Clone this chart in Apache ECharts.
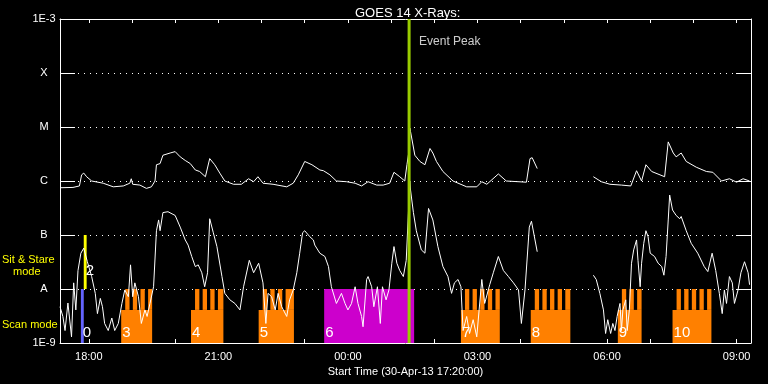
<!DOCTYPE html>
<html><head><meta charset="utf-8">
<script src="https://cdn.jsdelivr.net/npm/echarts@6/dist/echarts.min.js"></script>
<style>html,body{margin:0;padding:0;background:#000;}#c{width:768px;height:384px;}</style>
</head><body><div id="c"></div>
<script>
// ---------------- data ----------------
const chartTitle = 'GOES 14 X-Rays:';
const xAxisTitle = 'Start Time (30-Apr-13 17:20:00)';
const rangeStart = '17:20';
const rangeEnd = '09:20';
const yTickValues = [1e-9, 1e-8, 1e-7, 1e-6, 1e-5, 1e-4, 1e-3];
const yTickLabels = ['1E-9', 'A', 'B', 'C', 'M', 'X', '1E-3'];

// GOES long channel (1-8 A)
const longTimes = ['17:20','17:38','17:47','17:50','17:53','17:57','18:04','18:20','18:34','18:48','18:57','18:59','19:01','19:11','19:20','19:27','19:32','19:34','19:39','19:43','19:53','20:00','20:07','20:14','20:21','20:28','20:34','20:42','20:48','20:55','21:02','21:09','21:21','21:32','21:42','21:49','21:55','22:02','22:16','22:35','22:44','22:51','23:00','23:10','23:21','23:26','23:35','23:44','23:58','00:10','00:19','00:28','00:40','00:49','00:58','01:04','01:12','01:19','01:22','01:25','01:26','01:27','01:33','01:40','01:47','01:54','01:58','02:03','02:12','02:26','02:45','02:59','03:06','03:13','03:29','03:40','04:08','04:13','04:16','04:23','04:50','05:41','05:52','06:04','06:20','06:33','06:41','06:48','06:54','07:02','07:20','07:25','07:32','07:36','07:43','07:50','08:04','08:18','08:27','08:39','08:50','09:00','09:09','09:18'];
const longFlux = [7.5e-7,7.6e-7,8.1e-7,1.3e-6,1.4e-6,1.2e-6,1.0e-6,9.1e-7,7.8e-7,8.1e-7,9.1e-7,1.1e-6,8.7e-7,8.4e-7,7.3e-7,7.8e-7,1.0e-6,2.0e-6,2.1e-6,3.0e-6,3.3e-6,3.5e-6,2.8e-6,2.4e-6,2.1e-6,1.6e-6,1.5e-6,1.2e-6,2.6e-6,2.0e-6,1.4e-6,1.0e-6,8.7e-7,8.7e-7,1.1e-6,9.7e-7,1.2e-6,9.1e-7,8.7e-7,7.8e-7,9.1e-7,1.3e-6,2.3e-6,2.0e-6,1.6e-6,1.55e-6,1.3e-6,1.0e-6,9.7e-7,9.1e-7,8.1e-7,9.7e-7,8.4e-7,8.4e-7,9.1e-7,1.45e-6,1.2e-6,1.0e-6,2.0e-6,3.7e-6,9.6e-6,8.2e-6,3.0e-6,2.3e-6,2.0e-6,4.0e-6,3.3e-6,2.3e-6,1.5e-6,1.0e-6,7.8e-7,7.8e-7,9.7e-7,8.7e-7,1.35e-6,1.0e-6,9.5e-7,2.6e-6,2.7e-6,1.7e-6,null,1.2e-6,9.7e-7,8.7e-7,8.4e-7,8.1e-7,1.55e-6,1.0e-6,2.0e-6,1.5e-6,1.2e-6,5.3e-6,3.3e-6,2.8e-6,3.3e-6,2.3e-6,1.8e-6,1.5e-6,1.45e-6,1.0e-6,1.1e-6,9.5e-7,1.1e-6,1.0e-6];

// GOES short channel (0.5-4 A)
const shortTimes = ['17:20','17:24','17:27','17:31','17:36','17:39','17:42','17:45','17:49','17:53','17:58','18:04','18:09','18:12','18:16','18:19','18:22','18:27','18:32','18:36','18:41','18:46','18:50','18:55','18:58','19:01','19:04','19:09','19:13','19:18','19:21','19:25','19:30','19:34','19:37','19:39','19:43','19:50','20:00','20:07','20:14','20:18','20:23','20:28','20:32','20:37','20:41','20:45','20:48','20:53','20:58','21:05','21:09','21:16','21:23','21:30','21:35','21:43','21:49','21:56','22:02','22:06','22:09','22:14','22:19','22:23','22:28','22:35','22:39','22:44','22:49','22:53','22:57','23:00','23:07','23:12','23:14','23:21','23:28','23:33','23:37','23:44','23:51','23:56','00:00','00:05','00:10','00:14','00:19','00:21','00:26','00:28','00:33','00:36','00:41','00:45','00:48','00:53','00:57','01:01','01:04','01:08','01:12','01:17','01:21','01:24','01:26','01:27','01:31','01:35','01:42','01:47','01:52','01:54','01:58','02:05','02:12','02:19','02:24','02:28','02:33','02:37','02:40','02:45','02:49','02:54','02:59','03:06','03:10','03:17','03:22','03:29','03:36','03:43','03:50','03:57','04:01','04:06','04:12','04:15','04:23','04:50','05:41','05:45','05:50','05:55','05:58','06:01','06:05','06:08','06:11','06:14','06:18','06:20','06:22','06:26','06:28','06:31','06:34','06:37','06:41','06:43','06:46','06:48','06:51','06:54','06:57','07:00','07:06','07:11','07:16','07:19','07:22','07:25','07:27','07:31','07:36','07:41','07:43','07:50','07:57','08:06','08:15','08:20','08:26','08:31','08:36','08:40','08:43','08:46','08:50','08:54','08:57','09:02','09:06','09:11','09:16','09:18'];
const shortFlux = [4.7e-9,3.1e-9,1.7e-9,5.5e-9,1.3e-9,1.3e-8,4.1e-9,2.2e-8,4.6e-8,5.7e-8,3.2e-8,1.7e-8,8.3e-9,3.5e-9,6.7e-9,4.7e-9,2.3e-9,1.7e-9,2.9e-9,1.7e-9,2.3e-9,5.4e-9,9.6e-9,7.2e-9,2.8e-8,7.2e-9,1.3e-8,7.2e-9,2.3e-9,4.1e-9,3.1e-9,5.4e-9,1.1e-8,1.2e-7,1.9e-7,1.2e-7,2.6e-7,2.7e-7,2.3e-7,1.4e-7,8.1e-8,6.5e-8,4.0e-8,2.6e-8,2.8e-8,2.0e-8,1.1e-8,2.0e-8,2.0e-7,1.1e-7,6.1e-8,1.7e-8,8.3e-9,6.3e-9,5.4e-9,4.1e-9,1.1e-8,3.4e-8,2.0e-8,3.0e-8,1.3e-8,2.3e-9,8.3e-9,7.2e-9,4.1e-9,8.3e-9,4.7e-9,3.1e-9,6.3e-9,9.6e-9,2.0e-8,4.6e-8,1.1e-7,1.2e-7,9.3e-8,8.1e-8,6.5e-8,4.6e-8,4.0e-8,2.6e-8,1.1e-8,5.4e-9,8.3e-9,5.4e-9,4.1e-9,5.4e-9,1.1e-8,5.4e-9,3.1e-9,2.0e-9,1.5e-8,1.7e-8,1.1e-8,4.7e-9,1.1e-8,2.3e-9,1.1e-8,6.3e-9,9.6e-9,3.0e-8,6.1e-8,3.0e-8,2.2e-8,1.7e-8,3.4e-8,2.5e-7,1.0e-6,6.8e-7,2.6e-7,1.2e-7,5.3e-8,4.6e-8,3.1e-7,3.3e-7,1.9e-7,6.1e-8,2.6e-8,1.7e-8,8.3e-9,1.3e-8,1.5e-8,1.1e-8,1.7e-9,3.1e-9,1.5e-9,2.7e-9,1.3e-9,1.5e-8,5.4e-9,1.2e-8,2.0e-8,4.0e-8,2.2e-8,1.7e-8,1.3e-8,9.6e-9,2.3e-9,9.6e-9,1.4e-7,1.8e-7,4.9e-8,null,1.8e-8,1.5e-8,8.3e-9,4.1e-9,1.5e-9,2.7e-9,1.5e-9,2.3e-9,1.7e-9,3.1e-9,5.4e-9,1.7e-9,4.1e-9,6.3e-9,1.7e-9,4.1e-9,3.0e-8,5.3e-8,8.1e-8,3.4e-8,1.1e-8,3.0e-8,7.0e-8,1.2e-7,9.3e-8,4.6e-8,4.0e-8,3.0e-8,2.6e-8,1.8e-8,4.0e-8,1.9e-7,5.5e-7,2.9e-7,2.3e-7,2.0e-7,2.2e-7,1.2e-7,7.0e-8,4.6e-8,2.6e-8,2.1e-8,4.6e-8,2.2e-8,8.3e-9,3.5e-9,9.6e-9,5.4e-9,1.7e-8,1.3e-8,5.4e-9,9.6e-9,2.0e-8,3.2e-8,2.0e-8,1.2e-8];

const eventPeakTime = '01:25';
const eventLabel = 'Event Peak';

// instrument mode bars (left)
const modeLabel = ['0', '2'];
const modeStart = ['17:49', '17:53'];
const modeEnd = ['17:53', '17:57'];
const modeLow = [1e-9, 1e-8];
const modeHigh = [1e-8, 1e-7];

// observation blocks (teeth = number of scan steps, 0 = sit & stare)
const blockLabel = ['3', '4', '5', '6', '7', '8', '9', '10'];
const blockStart = ['18:45', '20:22', '21:56', '23:27', '02:37', '04:14', '06:15', '07:31'];
const blockEnd = ['19:28', '21:07', '22:45', '01:32', '03:31', '05:09', '06:48', '08:25'];
const blockTeeth = [4, 4, 4, 0, 5, 5, 3, 5];
const scanBaseFlux = 4.1e-9;
const scanTopFlux = 1e-8;
const toothOffsetMin = 5.6, toothPeriodMin = 10.6, toothWidthMin = 6;

// ---------------- helpers ----------------
function ts(hm) {
  const p = hm.split(':').map(Number);
  const day = p[0] >= 17 ? 30 : 31; // 31 Apr -> 1 May
  return new Date(2013, 3, day, p[0], p[1]).getTime();
}
const pad = n => (n < 10 ? '0' : '') + n;
const yMin = yTickValues[0], yMax = yTickValues[yTickValues.length - 1];
const FONT = 'Liberation Sans';

const longData = longTimes.map((t, i) => [ts(t), longFlux[i]]);
const shortData = shortTimes.map((t, i) => [ts(t), shortFlux[i]]);
const evT = ts(eventPeakTime);

const COLORS = { scan: '#ff8000', stare: '#cc00cc', mode0: '#6464ff', mode2: '#ffff00', event: '#99cc00' };

function rectEl(api, t0, t1, f0, f1, color) {
  const a = api.coord([t0, f1]), b = api.coord([t1, f0]);
  return { type: 'rect', shape: { x: a[0], y: a[1], width: b[0] - a[0], height: b[1] - a[1] }, style: { fill: color } };
}

const blockData = blockLabel.map((l, i) => [ts(blockStart[i]), ts(blockEnd[i]), blockTeeth[i], i, scanTopFlux]);
const modeData = modeLabel.map((l, i) => [ts(modeStart[i]), ts(modeEnd[i]), i, modeHigh[i]]);

const chart = echarts.init(document.getElementById('c'), null, { renderer: 'canvas' });
chart.setOption({
  backgroundColor: '#000',
  animation: false,
  title: {
    text: chartTitle, left: 350, top: 2,
    textStyle: { color: '#fff', fontSize: 13, fontWeight: 'normal', fontFamily: FONT }
  },
  grid: { left: 60, right: 17, top: 19, bottom: 41 },
  xAxis: [{
    type: 'time', min: ts(rangeStart), max: ts(rangeEnd),
    minInterval: 3600e3, maxInterval: 3600e3,
    name: xAxisTitle, nameLocation: 'middle', nameGap: 22,
    nameTextStyle: { color: '#fff', fontSize: 11, fontFamily: FONT },
    axisLine: { lineStyle: { color: '#fff', width: 1 } },
    axisTick: { inside: true, length: 4, lineStyle: { color: '#fff' } },
    axisLabel: {
      color: '#fff', fontSize: 11, fontFamily: FONT, margin: 8, interval: 0, hideOverlap: false,
      showMinLabel: false, showMaxLabel: false,
      formatter: v => { const d = new Date(v); return (d.getMinutes() === 0 && d.getHours() % 3 === 0) ? pad(d.getHours()) + ':00' : ''; }
    },
    splitLine: { show: false }
  }, {
    type: 'time', position: 'top', min: ts(rangeStart), max: ts(rangeEnd),
    minInterval: 3600e3, maxInterval: 3600e3,
    axisLine: { lineStyle: { color: '#fff', width: 1 } },
    axisTick: { inside: true, length: 4, lineStyle: { color: '#fff' } },
    axisLabel: { show: false }, splitLine: { show: false }
  }],
  yAxis: [{
    type: 'log', logBase: 10, min: yMin, max: yMax, splitNumber: 6,
    axisLine: { show: true, lineStyle: { color: '#fff', width: 1 } },
    axisTick: { show: true, inside: true, length: 15, lineStyle: { color: '#fff' } },
    axisLabel: {
      color: '#fff', fontSize: 11, fontFamily: FONT, align: 'center', margin: 16,
      formatter: v => yTickLabels[Math.round(Math.log10(v)) + 9] || ''
    },
    splitLine: { show: true, lineStyle: { color: '#fff', width: 1, type: [1, 5] } }
  }, {
    type: 'log', logBase: 10, min: yMin, max: yMax, splitNumber: 6, position: 'right',
    axisLine: { show: true, lineStyle: { color: '#fff', width: 1 } },
    axisTick: { show: true, inside: true, length: 15, lineStyle: { color: '#fff' } },
    axisLabel: { show: false }, splitLine: { show: false }
  }],
  graphic: [
    { type: 'text', left: 2, top: 254, style: { text: 'Sit & Stare', fill: '#ffff00', font: '11px ' + FONT } },
    { type: 'text', left: 13, top: 266, style: { text: 'mode', fill: '#ffff00', font: '11px ' + FONT } },
    { type: 'text', left: 2, top: 319, style: { text: 'Scan mode', fill: '#ffff00', font: '11px ' + FONT } }
  ],
  series: [
    {
      type: 'custom', name: 'blocks', z: 1, silent: true, clip: true,
      encode: { x: [0, 1], y: 4 },
      data: blockData,
      renderItem: (params, api) => {
        const s = api.value(0), e = api.value(1), n = api.value(2), i = api.value(3);
        const ch = [];
        if (n === 0) {
          ch.push(rectEl(api, s, e, yMin, scanTopFlux, COLORS.stare));
        } else {
          ch.push(rectEl(api, s, e, yMin, scanBaseFlux, COLORS.scan));
          for (let k = 0; k < n; k++) {
            const t0 = s + (toothOffsetMin + k * toothPeriodMin) * 60000;
            const t1 = k === n - 1 ? e : t0 + toothWidthMin * 60000;
            ch.push(rectEl(api, t0, t1, scanBaseFlux, scanTopFlux, COLORS.scan));
          }
        }
        const p = api.coord([s, yMin * 1.55]);
        ch.push({ type: 'text', x: p[0] + 1, y: p[1], style: { text: blockLabel[i], fill: '#fff', font: '15px ' + FONT, verticalAlign: 'middle', align: 'left' } });
        return { type: 'group', children: ch };
      }
    },
    {
      type: 'custom', name: 'modes', z: 1, silent: true,
      encode: { x: [0, 1], y: 3 },
      data: modeData,
      renderItem: (params, api) => {
        const s = api.value(0), e = api.value(1), i = api.value(2);
        const col = i === 0 ? COLORS.mode0 : COLORS.mode2;
        const p = api.coord([s, modeLow[i] * (i === 0 ? 1.55 : 2.2)]);
        return { type: 'group', children: [
          rectEl(api, s, e, modeLow[i], modeHigh[i], col),
          { type: 'text', x: p[0] + 2, y: p[1], style: { text: modeLabel[i], fill: '#fff', font: '15px ' + FONT, verticalAlign: 'middle', align: 'left' } }
        ] };
      }
    },
    {
      type: 'line', name: 'long', data: longData, showSymbol: false, connectNulls: false, z: 3,
      lineStyle: { color: '#fff', width: 1 }, silent: true
    },
    {
      type: 'line', name: 'short', data: shortData, showSymbol: false, connectNulls: false, z: 3,
      lineStyle: { color: '#fff', width: 1 }, silent: true
    },
    {
      type: 'line', name: 'event', data: [[evT, yMin], [evT, yMax]], showSymbol: false, z: 5,
      lineStyle: { color: COLORS.event, width: 3 }, silent: true
    },
    {
      type: 'scatter', name: 'eventLabel', data: [[evT, 3.75e-4]], symbolSize: 0, z: 5, silent: true,
      label: { show: true, position: 'right', distance: 10, formatter: eventLabel, color: '#fff', fontSize: 12, fontFamily: FONT }
    }
  ]
});
</script></body></html>
